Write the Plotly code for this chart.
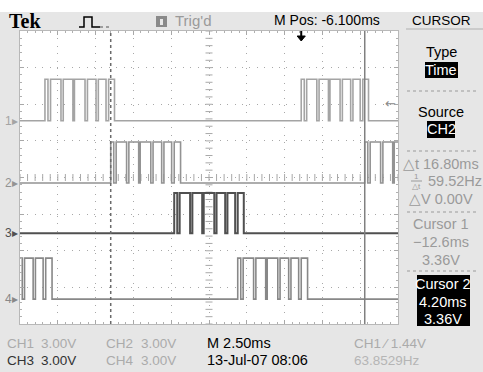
import numpy as np
import plotly.graph_objects as go

W, H = 483, 372

# Timebase (ms): 2.50 ms/div, 10 divisions, centre of screen at M Pos
T_START, T_END = -18.6, 6.4
MS_PER_DIV = 2.5
M_POS = -6.1

# Edge times in ms for each channel (alternating rising / falling edges)
CH1_EDGES = [-16.95, -16.75, -16.58, -15.89, -15.74, -15.10, -15.00, -14.30,
             -14.14, -13.57, -13.42, -12.91, -12.74, -12.35,
             0.00, 0.20, 0.36, 1.03, 1.18, 1.80, 1.90, 2.57, 2.72, 3.27,
             3.42, 3.90, 4.07, 4.45]
CH2_EDGES = [-12.60, -12.40, -12.24, -11.55, -11.40, -10.75, -10.65, -9.95,
             -9.80, -9.23, -9.08, -8.57, -8.40, -7.98,
             4.20, 4.40, 4.56, 5.25, 5.40, 6.05, 6.15, 6.85]
CH3_EDGES = [-8.40, -8.20, -8.04, -7.35, -7.20, -6.55, -6.45, -5.75,
             -5.60, -5.03, -4.88, -4.37, -4.20, -3.80]
CH4_EDGES = [-21.10, -20.90, -20.74, -20.05, -19.90, -19.25, -19.15, -18.45,
             -18.30, -17.73, -17.58, -17.07, -16.90, -16.48,
             -4.20, -4.00, -3.84, -3.15, -3.00, -2.35, -2.25, -1.55,
             -1.40, -0.83, -0.68, -0.17, 0.00, 0.42]

CH_EDGES = [CH1_EDGES, CH2_EDGES, CH3_EDGES, CH4_EDGES]
CH_HIGH_V = [3.40, 3.36, 3.30, 3.36]
CH_VOLTS_PER_DIV = [3.0, 3.0, 3.0, 3.0]
CH_GROUND_DIV = [5.55, 3.85, 2.48, 0.68]
CH_COLORS = ["#a4a4a4", "#939393", "#505050", "#888888"]
CH_WIDTHS = [1.6, 1.6, 2.0, 1.6]

CURSOR1_MS = -12.6
CURSOR2_MS = 4.20
TRIG_LEVEL_V = 1.44
TRIG_POS_MS = 0.0

SANS = "Liberation Sans, Arial, sans-serif"


def fx(px):
    return px / W


def fy(py):
    return 1 - py / H


def step_xy(edges, high, ground, vdiv):
    xs = [min(T_START, edges[0]) - 1.0] + list(edges) + [max(T_END, edges[-1]) + 1.0]
    levels = [0.0]
    lvl = 0.0
    for _ in edges:
        lvl = high if lvl == 0.0 else 0.0
        levels.append(lvl)
    levels.append(lvl)
    ys = [ground + v / vdiv for v in levels]
    return xs, ys


fig = go.Figure()

# centre-line graticule ticks
yt = np.arange(0, 8.001, 0.2)
xt = np.arange(T_START, T_END + 0.001, 0.5)
fig.add_trace(go.Scatter(x=[M_POS] * len(yt), y=yt, mode="markers",
                         marker=dict(symbol="line-ew", size=5,
                                     line=dict(width=1, color="#a8a8a8")),
                         hoverinfo="skip", showlegend=False))
fig.add_trace(go.Scatter(x=xt, y=[4.0] * len(xt), mode="markers",
                         marker=dict(symbol="line-ns", size=5,
                                     line=dict(width=1, color="#a8a8a8")),
                         hoverinfo="skip", showlegend=False))

# channel waveforms, CH4 drawn first so CH1 sits on top
for i in [3, 2, 1, 0]:
    xs, ys = step_xy(CH_EDGES[i], CH_HIGH_V[i], CH_GROUND_DIV[i], CH_VOLTS_PER_DIV[i])
    fig.add_trace(go.Scatter(x=xs, y=ys, mode="lines", line_shape="hv",
                             line=dict(color=CH_COLORS[i], width=CH_WIDTHS[i]),
                             hoverinfo="skip", showlegend=False, name=f"CH{i+1}"))

shapes = []
annotations = []

# time cursors
shapes.append(dict(type="line", xref="x", yref="y", x0=CURSOR1_MS, x1=CURSOR1_MS,
                   y0=0, y1=8, line=dict(color="#6a6a6a", width=1.5, dash="dot")))
shapes.append(dict(type="line", xref="x", yref="y", x0=CURSOR2_MS, x1=CURSOR2_MS,
                   y0=0, y1=8, line=dict(color="#808080", width=1.5)))

# white strip above the header
shapes.append(dict(type="rect", xref="paper", yref="paper", x0=0, x1=1,
                   y0=fy(12), y1=1, fillcolor="white", line=dict(width=0), layer="below"))

# trigger position marker: stem and arrow head at the trigger time
shapes.append(dict(type="line", xref="x", yref="paper", x0=TRIG_POS_MS, x1=TRIG_POS_MS,
                   y0=fy(31), y1=fy(37), line=dict(color="black", width=2)))
shapes.append(dict(type="path", xref="x", yref="paper",
                   path=(f"M {TRIG_POS_MS - 0.27},{fy(36)} L {TRIG_POS_MS + 0.27},{fy(36)} "
                         f"L {TRIG_POS_MS},{fy(41)} Z"),
                   fillcolor="black", line=dict(color="black", width=1)))


def txt(x, y, s, size=14, color="#000", anchor="left", family=SANS):
    annotations.append(dict(x=fx(x), y=fy(y), xref="paper", yref="paper",
                            text=s, showarrow=False, xanchor=anchor, yanchor="middle",
                            font=dict(family=family, size=size, color=color)))


def box(x0, y0, x1, y1, color="black"):
    shapes.append(dict(type="rect", xref="paper", yref="paper",
                       x0=fx(x0), x1=fx(x1), y0=fy(y1), y1=fy(y0),
                       fillcolor=color, line=dict(width=0)))


def hline(x0, x1, y, color="#9a9a9a", dash="dot", width=1):
    shapes.append(dict(type="line", xref="paper", yref="paper",
                       x0=fx(x0), x1=fx(x1), y0=fy(y), y1=fy(y),
                       line=dict(color=color, width=width, dash=dash)))


# header
txt(7, 21, "<b>Tek</b>", size=20, family="Liberation Serif, serif")
shapes.append(dict(type="path", xref="paper", yref="paper",
                   path=(f"M {fx(79)},{fy(27)} L {fx(84)},{fy(27)} L {fx(84)},{fy(17)} "
                         f"L {fx(92)},{fy(17)} L {fx(92)},{fy(27)} L {fx(100)},{fy(27)}"),
                   line=dict(color="black", width=1.5)))
hline(100, 109, 27, color="#555", dash="dot", width=1.2)
box(156, 16, 167, 27, color="#8a8a8a")
box(160, 19, 163, 25, color="#e8e8e8")
txt(173, 21, "Trig'd", size=15, color="#9a9a9a")
txt(272, 20, "M Pos: -6.100ms", size=14)
txt(441, 21, "CURSOR", size=13.5, anchor="center")
hline(406, 483, 29, color="#b0b0b0", dash="solid")

# trigger level marker (CH1)
annotations.append(dict(x=fx(398), y=CH_GROUND_DIV[0] + TRIG_LEVEL_V / CH_VOLTS_PER_DIV[0],
                        xref="paper", yref="y", text="←", showarrow=False,
                        xanchor="right", yanchor="middle",
                        font=dict(family="DejaVu Sans", size=13, color="#8a8a8a")))

# channel ground markers
for i in range(4):
    annotations.append(dict(x=fx(20), y=CH_GROUND_DIV[i], xref="paper", yref="y",
                            text=f"{i+1}▸", showarrow=False, xanchor="right",
                            yanchor="middle",
                            font=dict(family=SANS, size=12, color=CH_COLORS[i])))

# cursor menu
GRAY = "#9a9a9a"
txt(441, 52, "Type", size=14.5, anchor="center")
box(425, 62, 458, 78)
txt(441, 70, "Time", size=14.5, color="white", anchor="center")
hline(407, 476, 91)
txt(441, 112, "Source", size=14.5, anchor="center")
box(427, 121, 455, 138)
txt(441, 129, "CH2", size=14.5, color="white", anchor="center")
hline(407, 476, 151)
txt(441, 164, "△t 16.80ms", size=14.5, color=GRAY, anchor="center")
txt(416, 176, "1", size=8, color=GRAY, anchor="center")
hline(411, 422, 181, color=GRAY, dash="solid")
txt(416, 186, "△t", size=8, color=GRAY, anchor="center")
txt(426, 181, "59.52Hz", size=14.5, color=GRAY)
txt(441, 199, "△V 0.00V", size=14.5, color=GRAY, anchor="center")
hline(407, 476, 212)
txt(441, 224, "Cursor 1", size=14.5, color=GRAY, anchor="center")
txt(441, 242, "−12.6ms", size=14.5, color=GRAY, anchor="center")
txt(441, 260, "3.36V", size=14.5, color=GRAY, anchor="center")
hline(407, 476, 271)
box(417, 275, 470, 326)
txt(443, 284, "Cursor 2", size=14.5, color="white", anchor="center")
txt(443, 302, "4.20ms", size=14.5, color="white", anchor="center")
txt(443, 319, "3.36V", size=14.5, color="white", anchor="center")

# status lines
LG = "#ababab"
txt(5, 343, "CH1", size=13.5, color=LG)
txt(39, 343, "3.00V", size=13.5, color=LG)
txt(104, 343, "CH2", size=13.5, color=LG)
txt(139, 343, "3.00V", size=13.5, color=LG)
txt(205, 343, "M 2.50ms", size=14.5)
txt(352, 343, "CH1 ⁄ 1.44V", size=13.5, color=LG)
txt(5, 360, "CH3", size=13.5, color="#333")
txt(39, 360, "3.00V", size=13.5, color="#333")
txt(104, 360, "CH4", size=13.5, color=LG)
txt(139, 360, "3.00V", size=13.5, color=LG)
txt(205, 360, "13-Jul-07 08:06", size=14.5)
txt(352, 360, "63.8529Hz", size=13.5, color="#b5b5b5")

axis_common = dict(showticklabels=False, zeroline=False, showgrid=True,
                   gridcolor="#a8a8a8", gridwidth=1, griddash="1px,6.4px",
                   ticks="inside", ticklen=4, tickcolor="#a8a8a8",
                   showline=True, linecolor="#b8b8b8", linewidth=1, mirror="ticks",
                   fixedrange=True)

fig.update_layout(
    width=W, height=H,
    margin=dict(l=0, r=0, t=0, b=0),
    paper_bgcolor="#e6e6e6",
    plot_bgcolor="white",
    showlegend=False,
    xaxis=dict(domain=[fx(20), fx(398)], range=[T_START, T_END],
               tick0=T_START, dtick=MS_PER_DIV,
               minor=dict(dtick=0.5, tick0=T_START, ticks="inside", ticklen=2,
                          tickcolor="#b0b0b0", showgrid=False),
               **axis_common),
    yaxis=dict(domain=[fy(324), fy(31)], range=[0, 8], tick0=0, dtick=1,
               minor=dict(dtick=0.2, tick0=0, ticks="inside", ticklen=2,
                          tickcolor="#b0b0b0", showgrid=False),
               **axis_common),
    shapes=shapes,
    annotations=annotations,
)

fig.write_html("out.html")
